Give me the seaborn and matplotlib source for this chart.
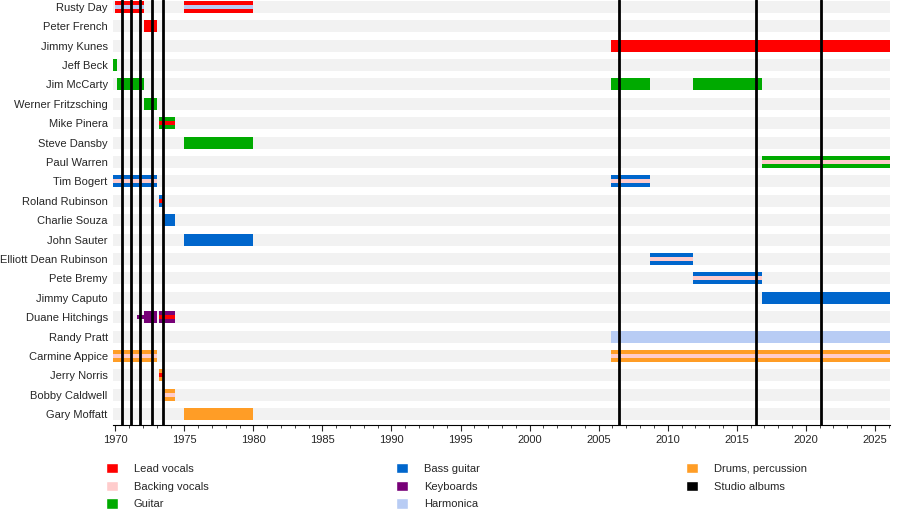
import matplotlib
matplotlib.use("Agg")
import matplotlib.pyplot as plt
import seaborn as sns
from matplotlib.patches import Patch

# 成员（自上而下）
members = ["Rusty Day", "Peter French", "Jimmy Kunes", "Jeff Beck", "Jim McCarty",
           "Werner Fritzsching", "Mike Pinera", "Steve Dansby", "Paul Warren", "Tim Bogert",
           "Roland Rubinson", "Charlie Souza", "John Sauter", "Elliott Dean Rubinson",
           "Pete Bremy", "Jimmy Caputo", "Duane Hitchings", "Randy Pratt", "Carmine Appice",
           "Jerry Norris", "Bobby Caldwell", "Gary Moffatt"]

# 角色颜色
role_colors = {
    "Lead vocals": "#ff0000",
    "Backing vocals": "#ffcccc",
    "Guitar": "#00aa00",
    "Bass guitar": "#0066cc",
    "Keyboards": "#770077",
    "Harmonica": "#b8ccf4",
    "Drums, percussion": "#ff9d26",
    "Studio albums": "#000000",
}

# 时间段：成员, 开始, 结束, 主角色, 次角色(条纹)
seg_member = ["Rusty Day", "Rusty Day", "Peter French", "Jimmy Kunes", "Jeff Beck",
              "Jim McCarty", "Jim McCarty", "Jim McCarty", "Werner Fritzsching", "Mike Pinera",
              "Steve Dansby", "Paul Warren", "Tim Bogert", "Tim Bogert", "Roland Rubinson",
              "Charlie Souza", "John Sauter", "Elliott Dean Rubinson", "Pete Bremy", "Jimmy Caputo",
              "Duane Hitchings", "Duane Hitchings", "Randy Pratt", "Carmine Appice", "Carmine Appice",
              "Jerry Norris", "Bobby Caldwell", "Gary Moffatt"]
seg_start = [1970.0, 1975.0, 1972.05, 2005.9, 1969.8,
             1970.1, 2005.9, 2011.8, 1972.05, 1973.2,
             1975.0, 2016.8, 1969.8, 2005.9, 1973.2,
             1973.45, 1975.0, 2008.7, 2011.8, 2016.8,
             1972.05, 1973.2, 2005.9, 1969.8, 2005.9,
             1973.2, 1973.45, 1975.0]
seg_end = [1972.1, 1980.0, 1973.0, 2026.1, 1970.1,
           1972.1, 2008.7, 2016.8, 1973.0, 1974.3,
           1980.0, 2026.1, 1973.0, 2008.7, 1973.45,
           1974.3, 1980.0, 2011.8, 2016.8, 2026.1,
           1973.0, 1974.3, 2026.1, 1973.0, 2026.1,
           1973.45, 1974.3, 1980.0]
seg_role = ["Lead vocals", "Lead vocals", "Lead vocals", "Lead vocals", "Guitar",
            "Guitar", "Guitar", "Guitar", "Guitar", "Guitar",
            "Guitar", "Guitar", "Bass guitar", "Bass guitar", "Bass guitar",
            "Bass guitar", "Bass guitar", "Bass guitar", "Bass guitar", "Bass guitar",
            "Keyboards", "Keyboards", "Harmonica", "Drums, percussion", "Drums, percussion",
            "Drums, percussion", "Drums, percussion", "Drums, percussion"]
seg_stripe = ["Harmonica", "Harmonica", None, None, None,
              None, None, None, None, "Lead vocals",
              None, "Backing vocals", "Backing vocals", "Backing vocals", "Lead vocals",
              None, None, "Backing vocals", "Backing vocals", None,
              None, "Lead vocals", None, "Backing vocals", "Backing vocals",
              "Lead vocals", "Backing vocals", None]

# 细条：Duane Hitchings 早期
thin_member = ["Duane Hitchings"]
thin_start = [1971.6]
thin_end = [1972.05]
thin_role = ["Keyboards"]

# 录音室专辑
albums = [1970.5, 1971.15, 1971.8, 1972.65, 1973.45, 2006.5, 2016.4, 2021.1]

sns.set_style("white")
plt.rcParams['font.family'] = ['Liberation Sans', 'DejaVu Sans']

fig = plt.figure(figsize=(9, 5.2), dpi=100)
ax = fig.add_axes([0.125, 0.183, 0.864, 0.817])

ypos = {m: i for i, m in enumerate(members)}
xmin, xmax = 1969.8, 2026.1

# 背景灰条
ax.barh(range(len(members)), xmax - xmin, left=xmin, height=0.62,
        color="#f2f2f2", linewidth=0, edgecolor="none", zorder=0)

for m, s, e, r, st in zip(seg_member, seg_start, seg_end, seg_role, seg_stripe):
    y = ypos[m]
    ax.barh(y, e - s, left=s, height=0.62, color=role_colors[r],
            linewidth=0, edgecolor="none", zorder=2)
    if st:
        ax.barh(y, e - s, left=s, height=0.2, color=role_colors[st],
                linewidth=0, edgecolor="none", zorder=3)

for m, s, e, r in zip(thin_member, thin_start, thin_end, thin_role):
    ax.barh(ypos[m], e - s, left=s, height=0.22, color=role_colors[r],
            linewidth=0, edgecolor="none", zorder=2)

for a in albums:
    ax.axvline(a, color="black", lw=2, zorder=4)

ax.set_xlim(xmin, xmax)
ax.set_ylim(len(members) - 0.45, -0.35)
ax.set_yticks(range(len(members)))
ax.set_yticklabels(members, fontsize=8)
ax.set_xticks(list(range(1970, 2026, 5)))
ax.set_xticks(list(range(1970, 2027)), minor=True)
ax.tick_params(axis="x", labelsize=8, length=4, which="major", bottom=True)
ax.tick_params(axis="x", length=2, which="minor", bottom=True)
ax.tick_params(axis="y", length=0)
for side in ["top", "right", "left"]:
    ax.spines[side].set_visible(False)
ax.spines["bottom"].set_color("black")

legend_order = [["Lead vocals", "Backing vocals", "Guitar"],
                ["Bass guitar", "Keyboards", "Harmonica"],
                ["Drums, percussion", "Studio albums"]]
col_x = [0.118, 0.44, 0.762]
for cx, col in zip(col_x, legend_order):
    handles = [Patch(facecolor=role_colors[k], label=k) for k in col]
    fig.legend(handles=handles, loc="upper left", bbox_to_anchor=(cx, 0.11),
               frameon=False, fontsize=8, handlelength=1.1, handleheight=1.1,
               labelspacing=0.6, handletextpad=1.4, borderpad=0, borderaxespad=0)

fig.savefig("out.png", dpi=100)
